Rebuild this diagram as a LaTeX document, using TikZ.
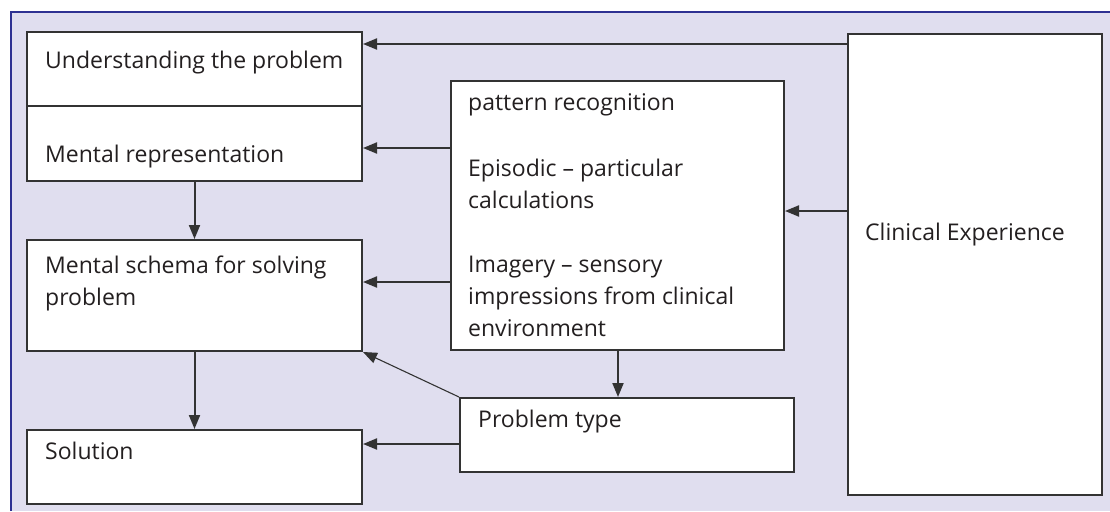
\documentclass[tikz,border=0pt]{standalone}
\usepackage{fontspec}
\setmainfont{Open Sans}
\usetikzlibrary{arrows.meta}
\definecolor{bgl}{HTML}{E0DEEF}
\definecolor{frameb}{HTML}{2E3192}
\definecolor{boxd}{HTML}{333333}
\definecolor{txt}{HTML}{231F20}
\tikzset{
  box/.style={draw=boxd, line width=2pt, fill=white, inner sep=0pt},
  lbl/.style={anchor=base west, inner sep=0pt, text=txt, font=\fontsize{23}{32}\selectfont},
  arr/.style={draw=boxd, line width=2pt, -{Triangle[length=14pt,width=11pt]}},
  thin arr/.style={draw=boxd, line width=1.1pt, -{Triangle[length=14pt,width=11pt]}}
}
\begin{document}
\begin{tikzpicture}[x=1pt,y=-1pt]
\useasboundingbox (0,0) rectangle (1110,511);
\fill[bgl] (11,12) rectangle (1110,511);
\draw[frameb, line width=2.5pt] (11,511) -- (11,12) -- (1110,12);
% boxes
\node[box, minimum width=335pt, minimum height=149pt] (und) at (194.5,106.5) {};
\draw[boxd, line width=2pt] (und.west |- 0,106) -- (und.east |- 0,106);
\node[box, minimum width=333pt, minimum height=269pt] (pat) at (617.5,215.5) {};
\node[box, minimum width=254pt, minimum height=461pt] (clin) at (975,264.5) {};
\node[box, minimum width=335pt, minimum height=111pt] (sch) at (194.5,295.5) {};
\node[box, minimum width=334pt, minimum height=74pt] (pt) at (627,435) {};
\node[box, minimum width=335pt, minimum height=74pt] (sol) at (194.5,467) {};
% texts
\node[lbl] (t1) at (45,68) {Understanding the problem};
\node[lbl] (t2) at (45,162) {Mental representation};
\node[lbl] (t3) at (45,273) {Mental schema for solving};
\node[lbl] (t3b) at (45,305) {problem};
\node[lbl] (t4) at (45,459) {Solution};
\node[lbl] (p1) at (468,110) {pattern recognition};
\node[lbl] (p2) at (468,176) {Episodic -- particular};
\node[lbl] (p2b) at (468,208) {calculations};
\node[lbl] (p3) at (468,272) {Imagery -- sensory};
\node[lbl] (p3b) at (468,304) {impressions from clinical};
\node[lbl] (p3c) at (468,336) {environment};
\node[lbl] (t5) at (478,427) {Problem type};
\node[lbl] (c1) at (865,240) {Clinical Experience};
% arrows
\draw[arr] (clin.west |- 0,44) -- (und.east |- 0,44);
\draw[arr] (pat.west |- 0,148) -- (und.east |- 0,148);
\draw[arr] (pat.west |- 0,282) -- (sch.east |- 0,282);
\draw[arr] (clin.west |- 0,211) -- (pat.east |- 0,211);
\draw[arr] (und.south) -- (sch.north);
\draw[arr] (sch.south) -- (sol.north);
\draw[arr] (pat.south -| 618,0) -- (pt.north -| 618,0);
\draw[arr] (pt.west |- 0,444) -- (sol.east |- 0,444);
\draw[thin arr] (pt.north west) -- (sch.south east);
\end{tikzpicture}
\end{document}
